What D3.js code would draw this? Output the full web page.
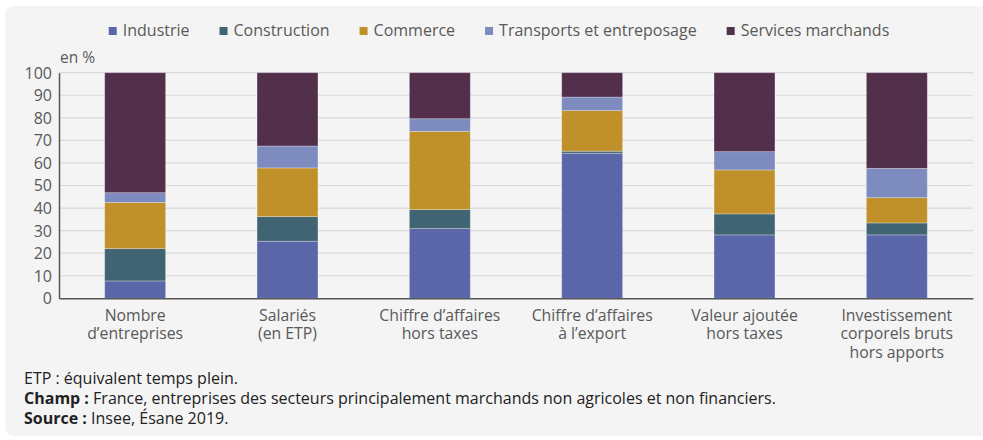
<!DOCTYPE html>
<html>
<head>
<meta charset="utf-8">
<script src="https://cdn.jsdelivr.net/npm/d3@7/dist/d3.min.js"></script>
<style>
  html, body { margin: 0; padding: 0; background: #ffffff; }
  svg { display: block; font-family: "Open Sans", "Noto Sans", sans-serif; }
</style>
</head>
<body>
<svg id="chart" width="983" height="440"></svg>
<script>
// Indicators (x axis), one line per array entry
const categories = [
  ["Nombre", "d\u2019entreprises"],
  ["Salari\u00e9s", "(en ETP)"],
  ["Chiffre d\u2019affaires", "hors taxes"],
  ["Chiffre d\u2019affaires", "\u00e0 l\u2019export"],
  ["Valeur ajout\u00e9e", "hors taxes"],
  ["Investissement", "corporels bruts", "hors apports"]
];

// Sector shares, in % of each indicator
const sectors = ["Industrie", "Construction", "Commerce", "Transports et entreposage", "Services marchands"];
const industrie    = [7.7, 25.3, 30.9, 64.3, 28.1, 28.1];
const construction = [14.3, 10.9, 8.4, 0.9, 9.3, 5.3];
const commerce     = [20.5, 21.6, 34.7, 18.0, 19.5, 11.2];
const transports   = [4.3, 9.7, 5.6, 6.0, 8.1, 13.0];
const services     = [53.2, 32.5, 20.4, 10.8, 35.0, 42.4];

const yTicks = [0, 10, 20, 30, 40, 50, 60, 70, 80, 90, 100];

const notes = [
  { bold: "", text: "ETP : \u00e9quivalent temps plein." },
  { bold: "Champ :", text: " France, entreprises des secteurs principalement marchands non agricoles et non financiers." },
  { bold: "Source :", text: " Insee, \u00c9sane 2019." }
];

const colors = ["#5a66a8", "#416472", "#c0912b", "#7d8bbf", "#52304c"];

const svg = d3.select("#chart");

// background card
svg.append("rect")
  .attr("x", 5).attr("y", 6).attr("width", 1000).attr("height", 430)
  .attr("rx", 9).attr("fill", "#f4f4f4");

const plot = { left: 59, right: 973, top: 72.7, bottom: 298.3 };

const x = d3.scaleBand()
  .domain(d3.range(categories.length))
  .range([plot.left, plot.right])
  .paddingInner(0.6)
  .paddingOuter(0.3);

const y = d3.scaleLinear().domain([0, 100]).range([plot.bottom, plot.top]);

// gridlines
svg.append("g").selectAll("line")
  .data(yTicks.filter(t => t > 0))
  .join("line")
  .attr("x1", plot.left).attr("x2", plot.right)
  .attr("y1", d => y(d)).attr("y2", d => y(d))
  .attr("stroke", "#d9d9d9").attr("stroke-width", 1.2);

// stacked bars
const rows = categories.map((c, i) => ({
  i,
  Industrie: industrie[i],
  Construction: construction[i],
  Commerce: commerce[i],
  "Transports et entreposage": transports[i],
  "Services marchands": services[i]
}));
const stack = d3.stack().keys(sectors)(rows);

svg.append("g").selectAll("g")
  .data(stack)
  .join("g")
  .attr("fill", (d, k) => colors[k])
  .selectAll("rect")
  .data(d => d)
  .join("rect")
  .attr("x", d => x(d.data.i))
  .attr("width", x.bandwidth())
  .attr("y", d => y(d[1]))
  .attr("height", d => y(d[0]) - y(d[1]))
  .attr("stroke", "rgba(255,255,255,0.35)")
  .attr("stroke-width", 0.8);

// y axis
const yAxis = d3.axisLeft(y).tickValues(yTicks).tickSize(0).tickPadding(7);
const gy = svg.append("g").attr("transform", `translate(${plot.left},0)`).call(yAxis);
gy.select(".domain").attr("stroke", "#555").attr("stroke-width", 1.5);
gy.selectAll("text")
  .attr("font-family", "Open Sans")
  .attr("font-size", 16)
  .attr("fill", "#595959")
  .attr("dy", "0.34em");

// x axis
const xAxis = d3.axisBottom(x).tickSize(0).tickFormat(() => "");
const gx = svg.append("g").attr("transform", `translate(0,${plot.bottom})`).call(xAxis);
gx.select(".domain").attr("stroke", "#555").attr("stroke-width", 1.5);

const xl = svg.append("g")
  .attr("font-size", 15.8).attr("fill", "#595959").attr("text-anchor", "middle");
categories.forEach((lines, i) => {
  lines.forEach((ln, j) => {
    xl.append("text")
      .attr("x", x(i) + x.bandwidth() / 2)
      .attr("y", 320.5 + j * 18.6)
      .text(ln);
  });
});

// unit label
svg.append("text").attr("x", 60).attr("y", 62.5)
  .attr("font-size", 15.5).attr("fill", "#595959").text("en %");

// legend
const lg = svg.append("g").attr("font-size", 16).attr("fill", "#595959");
let lx = 0;
sectors.forEach((s, k) => {
  const g = lg.append("g");
  g.append("rect").attr("x", 0).attr("y", -8.5).attr("width", 8).attr("height", 8).attr("fill", colors[k]);
  const t = g.append("text").attr("x", 14).attr("y", 0).text(s);
  const w = 14 + t.node().getComputedTextLength();
  g.attr("transform", `translate(${lx},0)`);
  lx += w + 30;
});
const legendWidth = lx - 30;
lg.attr("transform", `translate(${499 - legendWidth / 2},35.5)`);

// notes
const ng = svg.append("g").attr("font-size", 16).attr("fill", "#222");
notes.forEach((n, i) => {
  const t = ng.append("text").attr("x", 24).attr("y", 384 + i * 20);
  if (n.bold) t.append("tspan").attr("font-weight", "bold").text(n.bold);
  t.append("tspan").text(n.text);
});
</script>
</body>
</html>
